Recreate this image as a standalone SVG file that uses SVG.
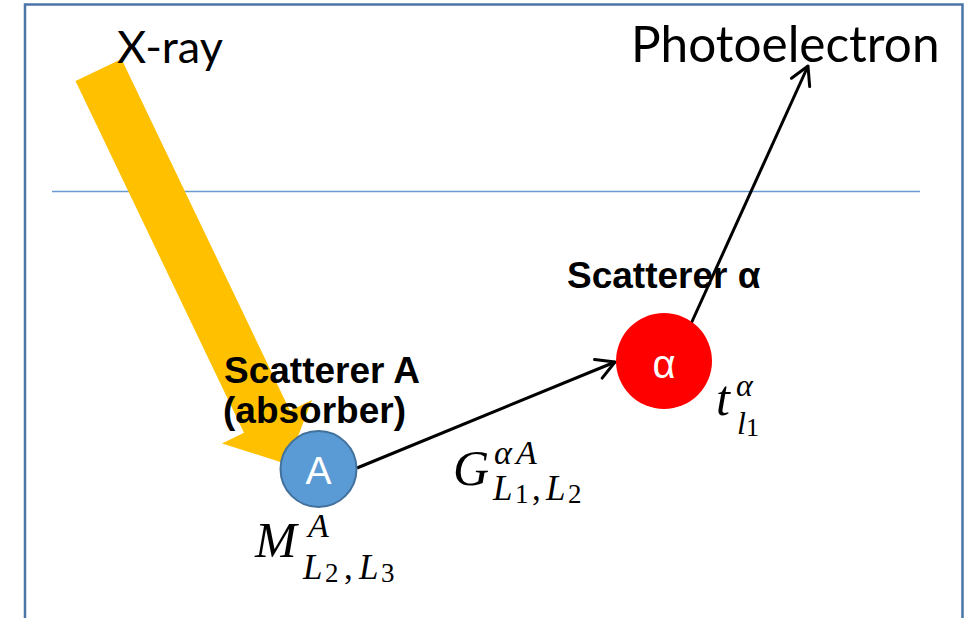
<svg xmlns="http://www.w3.org/2000/svg" width="966" height="618" viewBox="0 0 966 618">
  <style>
    .frame { fill: none; stroke: #4a76a8; stroke-width: 2.5; }
    .hline { stroke: #6a9bd0; stroke-width: 1.5; }
    .title { font-family: Lato, "Open Sans", sans-serif; fill: #000; }
    .bold { font-family: "Liberation Sans", Arial, sans-serif; font-weight: bold; font-size: 37px; fill: #000; }
    .node-label { font-family: "Liberation Sans", Arial, sans-serif; fill: #fff; text-anchor: middle; }
    .mi { font-family: "Liberation Serif", "DejaVu Serif", serif; font-style: italic; fill: #000; }
    .mn { font-family: "Liberation Serif", "DejaVu Serif", serif; fill: #000; }
    .conn { stroke: #000; stroke-width: 3; fill: none; marker-end: url(#chev); }
  </style>
  <defs>
    <marker id="chev" viewBox="0 0 24 24" refX="21" refY="12" markerWidth="24" markerHeight="24" markerUnits="userSpaceOnUse" orient="auto">
      <path d="M3,2 L21,12 L3,22" fill="none" stroke="#000" stroke-width="3" stroke-linecap="round" stroke-linejoin="round"/>
    </marker>
  </defs>

  <rect width="966" height="618" fill="#fff"/>
  <path class="frame" d="M25,640 L25,4.5 L962.5,4.5 L962.5,640"/>
  <line class="hline" x1="52" y1="191.5" x2="920" y2="191.5"/>

  <g id="xray-beam">
    <polygon points="75.5,81 121.5,59 290,410.8 312,400 287.3,464.2 222,443.4 244,432.8" fill="#ffc000"/>
  </g>

  <g id="label-xray"><text class="title" x="117" y="63" font-size="45">X-ray</text></g>
  <g id="label-photoelectron"><text class="title" x="631" y="62" font-size="49.5">Photoelectron</text></g>

  <g id="label-scatterer-a">
    <text class="bold" x="224" y="383">Scatterer A</text>
    <text class="bold" x="223" y="423">(absorber)</text>
  </g>
  <g id="label-scatterer-alpha">
    <text class="bold" x="567" y="288">Scatterer α</text>
  </g>

  <g id="connectors">
    <line class="conn" x1="357" y1="468" x2="615" y2="362"/>
    <line class="conn" x1="690" y1="326" x2="808" y2="66"/>
  </g>

  <g id="node-A">
    <circle cx="318.5" cy="469" r="38" fill="#5b9bd5" stroke="#41719c" stroke-width="2"/>
    <text class="node-label" x="318.5" y="484" font-size="39">A</text>
  </g>

  <g id="node-alpha">
    <circle cx="664" cy="361" r="48" fill="#ff0000"/>
    <text class="node-label" x="664" y="378" font-size="40">α</text>
  </g>

  <g id="math-M">
    <text class="mi" x="255" y="557" font-size="50">M</text>
    <text class="mi" x="308" y="537" font-size="34">A</text>
    <text class="mi" x="303" y="579" font-size="35">L</text>
    <text class="mn" x="325" y="582" font-size="27">2</text>
    <text class="mn" x="344" y="579" font-size="35">,</text>
    <text class="mi" x="359" y="579" font-size="35">L</text>
    <text class="mn" x="381" y="582" font-size="27">3</text>
  </g>

  <g id="math-G">
    <text class="mi" x="453" y="485" font-size="50">G</text>
    <text class="mi" x="494" y="464" font-size="34">α</text>
    <text class="mi" x="516" y="464" font-size="34">A</text>
    <text class="mi" x="493" y="500" font-size="35">L</text>
    <text class="mn" x="515" y="503" font-size="27">1</text>
    <text class="mn" x="532" y="500" font-size="35">,</text>
    <text class="mi" x="546" y="500" font-size="35">L</text>
    <text class="mn" x="568" y="503" font-size="27">2</text>
  </g>

  <g id="math-t">
    <text class="mi" x="716" y="415" font-size="50">t</text>
    <text class="mi" x="736" y="396" font-size="32">α</text>
    <text class="mi" x="737" y="434" font-size="32">l</text>
    <text class="mn" x="746" y="436" font-size="26">1</text>
  </g>
</svg>
